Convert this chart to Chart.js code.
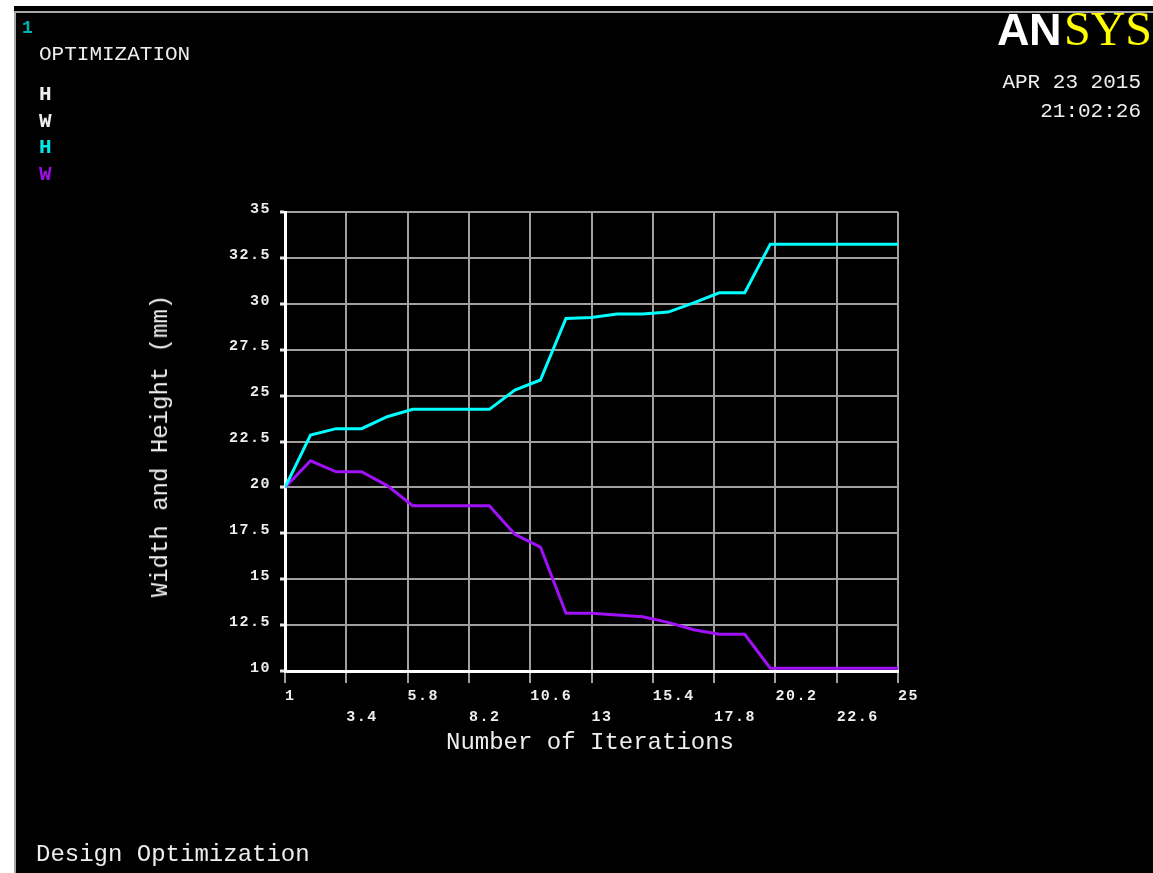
<!DOCTYPE html>
<html>
<head>
<meta charset="utf-8">
<script src="https://cdn.jsdelivr.net/npm/chart.js@4.4.1/dist/chart.umd.min.js"></script>
<style>
html,body{margin:0;padding:0;background:#fff;width:1153px;height:873px;overflow:hidden;position:relative;}
#panel{position:absolute;left:14px;top:6px;width:1139px;height:867px;background:#000;}
#fl{position:absolute;left:14px;top:11px;width:2px;height:862px;background:#a8a8a8;}
#ft{position:absolute;left:14px;top:11px;width:1139px;height:2px;background:#a8a8a8;}
canvas{position:absolute;left:0;top:0;}
.t{position:absolute;font-family:"Liberation Mono","Courier New",monospace;line-height:1;white-space:nowrap;color:#eeeeee;}
</style>
</head>
<body>
<div id="panel"></div>
<div id="fl"></div>
<div id="ft"></div>
<canvas id="c" width="1153" height="873"></canvas>

<div class="t" style="left:22px;top:19px;font-size:18px;font-weight:bold;color:#00b0b0;">1</div>
<div class="t" style="left:39px;top:44px;font-size:21px;">OPTIMIZATION</div>
<div class="t" style="left:39px;top:84px;font-size:21px;font-weight:bold;">H</div>
<div class="t" style="left:39px;top:111px;font-size:21px;font-weight:bold;">W</div>
<div class="t" style="left:39px;top:137px;font-size:21px;font-weight:bold;color:#00e8e8;">H</div>
<div class="t" style="left:39px;top:164px;font-size:21px;font-weight:bold;color:#9a10e0;">W</div>

<div class="t" style="left:997px;top:7px;font-family:'Liberation Sans',Arial,sans-serif;font-weight:bold;font-size:45px;color:#fff;letter-spacing:-0.5px;">AN</div>
<div class="t" style="left:1064px;top:5px;font-family:'Liberation Serif','Times New Roman',serif;font-size:48px;color:#ffff00;">SYS</div>
<div class="t" style="right:12px;top:72px;font-size:21px;">APR 23 2015</div>
<div class="t" style="right:12px;top:101px;font-size:21px;">21:02:26</div>

<div class="t" style="left:590px;top:731px;font-size:24px;transform:translateX(-50%);">Number of Iterations</div>
<div class="t" style="left:160.5px;top:446px;font-size:24px;transform:translate(-50%,-50%) rotate(-90deg);">Width and Height (mm)</div>
<div class="t" style="left:36px;top:843px;font-size:24px;">Design Optimization</div>

<script>
const iterations = [1,2,3,4,5,6,7,8,9,10,11,12,13,14,15,16,17,18,19,20,21,22,23,24,25];
const heightH = [20, 22.85, 23.2, 23.2, 23.85, 24.25, 24.25, 24.25, 24.25, 25.3, 25.85, 29.2, 29.25, 29.45, 29.45, 29.55, 30.05, 30.6, 30.6, 33.25, 33.25, 33.25, 33.25, 33.25, 33.25];
const widthW = [20, 21.45, 20.85, 20.85, 20.1, 19.0, 19.0, 19.0, 19.0, 17.45, 16.75, 13.15, 13.15, 13.05, 12.95, 12.65, 12.25, 12.0, 12.0, 10.15, 10.15, 10.15, 10.15, 10.15, 10.15];
const xTickValues = [1, 3.4, 5.8, 8.2, 10.6, 13, 15.4, 17.8, 20.2, 22.6, 25];
const xTickLabels = ['1','3.4','5.8','8.2','10.6','13','15.4','17.8','20.2','22.6','25'];
const yTickValues = [10, 12.5, 15, 17.5, 20, 22.5, 25, 27.5, 30, 32.5, 35];
const yTickLabels = ['10','12.5','15','17.5','20','22.5','25','27.5','30','32.5','35'];

const tickFont = {family:"'Liberation Mono','Courier New',monospace", size:15, weight:'bold', lineHeight:1.4};

const spacingPlugin = {
  id:'spacing',
  beforeLayout(chart){ chart.ctx.letterSpacing = '1.5px'; },
  beforeDraw(chart){ chart.ctx.letterSpacing = '1.5px'; }
};

new Chart(document.getElementById('c'), {
  type:'line',
  data:{
    datasets:[
      {label:'H', data: iterations.map((x,i)=>({x:x, y:heightH[i]})), borderColor:'#00ffff', borderWidth:3, pointRadius:0, tension:0, fill:false},
      {label:'W', data: iterations.map((x,i)=>({x:x, y:widthW[i]})), borderColor:'#a010f8', borderWidth:3, pointRadius:0, tension:0, fill:false}
    ]
  },
  options:{
    responsive:false,
    devicePixelRatio:1,
    animation:false,
    layout:{padding:{left:0, top:212, right:255, bottom:0}},
    plugins:{legend:{display:false}, tooltip:{enabled:false}, title:{display:false}},
    scales:{
      x:{
        type:'linear', min:1, max:25,
        afterBuildTicks(scale){ scale.ticks = xTickValues.map(v=>({value:v})); },
        afterFit(scale){ scale.height = 202; },
        grid:{color:'#a0a0a0', lineWidth:2, drawTicks:true, tickLength:12, tickColor:'#a0a0a0', tickWidth:2},
        border:{display:true, color:'#ffffff', width:3},
        ticks:{
          autoSkip:false, maxRotation:0, minRotation:0, align:'start', padding:3,
          color:'#eeeeee', font:tickFont,
          callback(value, index){ return index % 2 ? ['', xTickLabels[index]] : xTickLabels[index]; }
        }
      },
      y:{
        type:'linear', min:10, max:35,
        afterBuildTicks(scale){ scale.ticks = yTickValues.map(v=>({value:v})); },
        afterFit(scale){ scale.width = 285; },
        grid:{color:'#a0a0a0', lineWidth:2, drawTicks:true, tickLength:5, tickColor:'#e8e8e8', tickWidth:3},
        border:{display:true, color:'#ffffff', width:3},
        ticks:{
          padding:9, labelOffset:-3, color:'#eeeeee', font:tickFont,
          callback(value, index){ return yTickLabels[index]; }
        }
      }
    }
  },
  plugins:[spacingPlugin]
});
</script>
</body>
</html>
